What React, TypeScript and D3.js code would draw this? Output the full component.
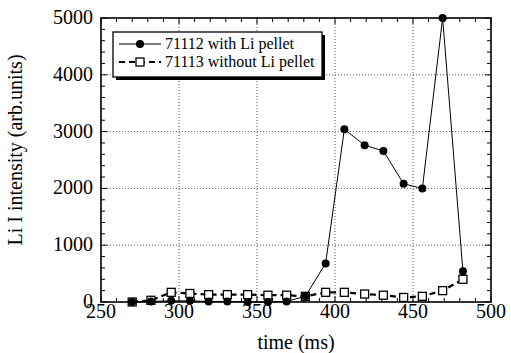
import React from 'react';
import * as d3 from 'd3';

// time (ms) of each shot sample
const times = [270, 282, 295, 307, 319, 331, 344, 357, 369, 381, 394, 406, 419, 431, 444, 456, 469, 482];
// 71112 with Li pellet
const withPellet = [0, 10, 20, 20, 10, 10, 0, 0, 10, 100, 680, 3040, 2760, 2660, 2080, 2000, 5000, 540];
// 71113 without Li pellet
const withoutPellet = [0, 30, 170, 150, 130, 130, 130, 120, 120, 100, 170, 170, 140, 120, 80, 100, 200, 400];

const xTicks = [250, 300, 350, 400, 450, 500];
const yTicks = [0, 1000, 2000, 3000, 4000, 5000];

const W = 511;
const H = 353;
const FONT = '"Liberation Serif", "Times New Roman", serif';

export default function App() {
  const left = 101, right = 491, top = 18, bottom = 302;
  const x = d3.scaleLinear().domain([250, 500]).range([left, right]);
  const y = d3.scaleLinear().domain([0, 5000]).range([bottom, top]);

  const line = d3.line<number>()
    .x((d, i) => x(times[i]))
    .y(d => y(d));

  const minorX = d3.range(250, 501, 10);
  const minorY = d3.range(0, 5001, 200);

  return (
    <svg width={W} height={H} style={{ position: 'absolute', left: 0, top: 0, background: '#fff' }}>
      {/* grid */}
      {xTicks.slice(1, -1).map(t => (
        <line key={'gx' + t} x1={x(t)} x2={x(t)} y1={top} y2={bottom}
          stroke="#555" strokeWidth={1} strokeDasharray="1,2" />
      ))}
      {yTicks.slice(1, -1).map(t => (
        <line key={'gy' + t} x1={left} x2={right} y1={y(t)} y2={y(t)}
          stroke="#555" strokeWidth={1} strokeDasharray="1,2" />
      ))}

      {/* minor + major ticks, pointing inward on all sides */}
      {minorX.map(t => {
        const len = t % 50 === 0 ? 6 : 4;
        return (
          <g key={'tx' + t}>
            <line x1={x(t)} x2={x(t)} y1={bottom} y2={bottom - len} stroke="#000" />
            <line x1={x(t)} x2={x(t)} y1={top} y2={top + len} stroke="#000" />
          </g>
        );
      })}
      {minorY.map(t => {
        const len = t % 1000 === 0 ? 6 : 4;
        return (
          <g key={'ty' + t}>
            <line x1={left} x2={left + len} y1={y(t)} y2={y(t)} stroke="#000" />
            <line x1={right} x2={right - len} y1={y(t)} y2={y(t)} stroke="#000" />
          </g>
        );
      })}

      <rect x={left} y={top} width={right - left} height={bottom - top}
        fill="none" stroke="#000" strokeWidth={1.6} />

      {/* tick labels */}
      {xTicks.map(t => (
        <text key={'lx' + t} x={x(t)} y={318} textAnchor="middle"
          fontFamily={FONT} fontSize={20}>{t}</text>
      ))}
      {yTicks.map(t => (
        <text key={'ly' + t} x={93} y={y(t) + 6} textAnchor="end"
          fontFamily={FONT} fontSize={20}>{t}</text>
      ))}

      {/* axis titles */}
      <text x={296} y={349} textAnchor="middle" fontFamily={FONT} fontSize={20}>time (ms)</text>
      <text transform={`translate(22,150) rotate(-90)`} textAnchor="middle"
        fontFamily={FONT} fontSize={20}>Li I intensity (arb.units)</text>

      {/* series without pellet */}
      <path d={line(withoutPellet) || ''} fill="none" stroke="#000" strokeWidth={2.2}
        strokeDasharray="6,4" />
      {withoutPellet.map((v, i) => (
        <rect key={'sq' + i} x={x(times[i]) - 4} y={y(v) - 4} width={8} height={8}
          fill="#fff" stroke="#000" strokeWidth={1.3} />
      ))}

      {/* series with pellet */}
      <path d={line(withPellet) || ''} fill="none" stroke="#000" strokeWidth={1} />
      {withPellet.map((v, i) => (
        <circle key={'c' + i} cx={x(times[i])} cy={y(v)} r={4} fill="#000" />
      ))}

      {/* legend */}
      <g>
        <rect x={116} y={35} width={209} height={45} fill="#000" />
        <rect x={113} y={32} width={209} height={45} fill="#fff" stroke="#000" strokeWidth={1.3} />
        <line x1={119} x2={161} y1={44} y2={44} stroke="#000" strokeWidth={1} />
        <circle cx={140} cy={44} r={4} fill="#000" />
        <text x={165} y={49} fontFamily={FONT} fontSize={16}>71112 with Li pellet</text>
        <line x1={119} x2={161} y1={62} y2={62} stroke="#000" strokeWidth={2.2} strokeDasharray="6,4" />
        <rect x={136} y={58} width={8} height={8} fill="#fff" stroke="#000" strokeWidth={1.3} />
        <text x={165} y={67} fontFamily={FONT} fontSize={16}>71113 without Li pellet</text>
      </g>
    </svg>
  );
}
